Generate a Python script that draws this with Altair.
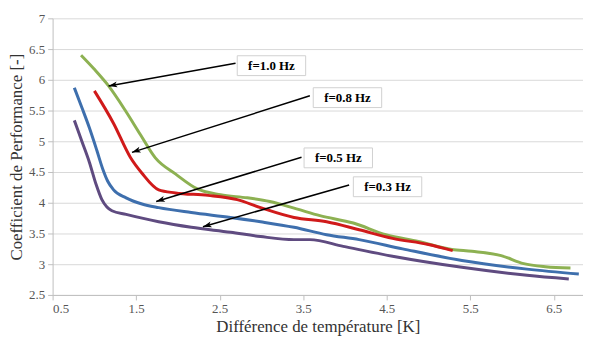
import math
import altair as alt
import pandas as pd

# ---- data ----
x_10 = [0.84, 1.0, 1.17, 1.38, 1.55, 1.73, 1.97, 2.24, 2.51, 2.83, 3.1, 3.42, 3.70, 4.10, 4.49, 4.88, 5.28, 5.52, 5.87, 6.14, 6.40, 6.70]
y_10 = [6.40, 6.17, 5.90, 5.48, 5.11, 4.73, 4.47, 4.22, 4.13, 4.08, 4.02, 3.90, 3.79, 3.67, 3.48, 3.37, 3.24, 3.21, 3.14, 3.01, 2.96, 2.94]

x_08 = [1.0, 1.23, 1.43, 1.57, 1.77, 1.97, 2.36, 2.71, 2.99, 3.39, 3.78, 4.17, 4.57, 5.0, 5.29]
y_08 = [5.82, 5.29, 4.74, 4.48, 4.21, 4.16, 4.12, 4.05, 3.92, 3.76, 3.69, 3.56, 3.42, 3.32, 3.22]

x_05 = [0.76, 0.85, 0.94, 1.03, 1.10, 1.16, 1.23, 1.38, 1.57, 1.77, 2.16, 2.63, 2.99, 3.39, 3.78, 4.17, 4.69, 5.40, 6.18, 6.80]
y_05 = [5.87, 5.55, 5.22, 4.85, 4.55, 4.35, 4.21, 4.08, 3.98, 3.92, 3.84, 3.76, 3.69, 3.60, 3.48, 3.40, 3.25, 3.06, 2.92, 2.84]

x_03 = [0.76, 0.85, 0.94, 1.02, 1.09, 1.15, 1.21, 1.38, 1.77, 2.16, 2.63, 2.99, 3.39, 3.58, 3.98, 4.57, 5.40, 6.18, 6.68]
y_03 = [5.34, 5.00, 4.66, 4.30, 4.05, 3.93, 3.87, 3.81, 3.69, 3.60, 3.52, 3.45, 3.40, 3.40, 3.29, 3.13, 2.95, 2.82, 2.76]

series_names = ["f=0.3 Hz", "f=0.5 Hz", "f=1.0 Hz", "f=0.8 Hz"]
series_colors = ["#5F4B80", "#3E6FAD", "#8DB152", "#D01A1A"]

labels = ["f=1.0 Hz", "f=0.8 Hz", "f=0.5 Hz", "f=0.3 Hz"]
label_x = [3.12, 4.03, 3.92, 4.51]
label_y = [6.23, 5.71, 4.73, 4.26]
arrow_x1 = [2.69, 3.58, 3.48, 4.05]
arrow_y1 = [6.27, 5.74, 4.74, 4.29]
arrow_x2 = [1.17, 1.45, 1.74, 2.30]
arrow_y2 = [5.90, 4.82, 4.02, 3.61]

x_ticks = [0.5, 1.5, 2.5, 3.5, 4.5, 5.5, 6.5]
y_ticks = [2.5, 3, 3.5, 4, 4.5, 5, 5.5, 6, 6.5, 7]

# ---- layout ----
W, H = 535, 279
XDOM = [0.5, 6.85]
YDOM = [2.5, 7.0]
SERIF = "Liberation Serif, Times New Roman, serif"

rows = []
for name, xs, ys in [("f=0.3 Hz", x_03, y_03), ("f=0.5 Hz", x_05, y_05),
                     ("f=1.0 Hz", x_10, y_10), ("f=0.8 Hz", x_08, y_08)]:
    for i, (a, b) in enumerate(zip(xs, ys)):
        rows.append({"serie": name, "x": a, "y": b, "i": i})
df = pd.DataFrame(rows)

sx = W / (XDOM[1] - XDOM[0])
sy = H / (YDOM[1] - YDOM[0])
angles = []
for a1, b1, a2, b2 in zip(arrow_x1, arrow_y1, arrow_x2, arrow_y2):
    dxp = (a2 - a1) * sx
    dys = -(b2 - b1) * sy
    angles.append(math.degrees(math.atan2(dxp, -dys)) % 360)

ann = pd.DataFrame({
    "label": labels, "lx": label_x, "ly": label_y,
    "x1": arrow_x1, "y1": arrow_y1, "x2": arrow_x2, "y2": arrow_y2,
    "ang": angles,
})

xs_ = alt.Scale(domain=XDOM, nice=False, zero=False)
ys_ = alt.Scale(domain=YDOM, nice=False, zero=False)

lines = alt.Chart(df).mark_line(strokeWidth=3, interpolate="monotone").encode(
    x=alt.X("x:Q", scale=xs_,
            axis=alt.Axis(values=x_ticks, tickCount=30, format="~g", grid=False, labelOverlap=False,
                          labelFont=SERIF, labelFontSize=13,
                          title="Différence de température [K]",
                          titleX=W / 2, titleY=37, titleBaseline="alphabetic")),
    y=alt.Y("y:Q", scale=ys_,
            axis=alt.Axis(values=y_ticks, tickCount=30, format="~g", grid=True, labelOverlap=False,
                          labelFont=SERIF, labelFontSize=13,
                          title="Coefficient de Performance [-]",
                          titleX=-31, titleY=H / 2, titleBaseline="alphabetic")),
    color=alt.Color("serie:N", scale=alt.Scale(domain=series_names, range=series_colors), legend=None),
    detail="serie:N",
    order="i:Q",
)

rules = alt.Chart(ann).mark_rule(color="black", strokeWidth=1.5).encode(
    x=alt.X("x1:Q", scale=xs_), y=alt.Y("y1:Q", scale=ys_), x2="x2:Q", y2="y2:Q"
)

heads = alt.Chart(ann).mark_point(
    shape="M0,0L0.55,1.6L0,1.2L-0.55,1.6Z", filled=True, color="black", size=120, opacity=1
).encode(
    x=alt.X("x2:Q", scale=xs_), y=alt.Y("y2:Q", scale=ys_), angle=alt.Angle("ang:Q", scale=None)
)

boxes = alt.Chart(ann).mark_point(
    shape="M-1,-0.29H1V0.29H-1Z", filled=True, fill="white", stroke="#d0d0d0",
    strokeWidth=1, size=69 * 69, opacity=1, fillOpacity=1
).encode(x=alt.X("lx:Q", scale=xs_), y=alt.Y("ly:Q", scale=ys_))

texts = alt.Chart(ann).mark_text(
    font=SERIF, fontSize=13, fontWeight="bold", color="black", align="center", baseline="middle"
).encode(x=alt.X("lx:Q", scale=xs_), y=alt.Y("ly:Q", scale=ys_), text="label:N")

chart = alt.layer(lines, rules, heads, boxes, texts).properties(
    width=W, height=H,
    autosize=alt.AutoSizeParams(type="none"),
    padding={"left": 45, "top": 9, "right": 0, "bottom": 42},
).configure_view(stroke=None).configure_axis(
    labelFont=SERIF, labelFontSize=13, labelColor="#555555",
    titleFont=SERIF, titleFontSize=17, titleFontWeight="normal", titleColor="#333333",
    domainColor="#bfbfbf", tickColor="#bfbfbf", tickSize=5, gridColor="#d9d9d9",
    labelPadding=3,
)

chart.save("out.html", embed_options={"renderer": "svg", "actions": False})
